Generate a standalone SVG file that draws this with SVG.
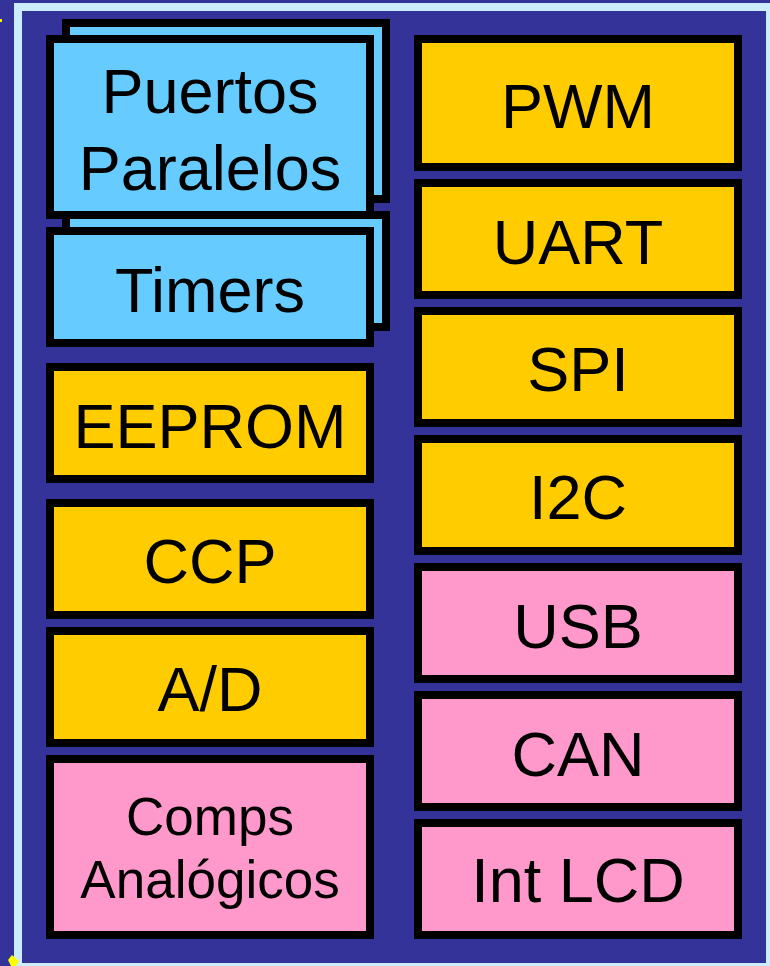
<svg xmlns="http://www.w3.org/2000/svg" width="770" height="966" viewBox="0 0 770 966">
  <style>
    .box { stroke: #000000; stroke-width: 8; }
    .cyan { fill: #66CCFF; }
    .yellow { fill: #FFCC00; }
    .pink { fill: #FF99CC; }
    .lbl { font-family: "Liberation Sans", Arial, sans-serif; font-size: 63px; fill: #000000; text-anchor: middle; }
    .sm { font-size: 53px; }
  </style>
  <rect x="0" y="0" width="770" height="966" fill="#333399"/>
  <rect x="18" y="7" width="752" height="960" fill="#333399" stroke="#CCECFF" stroke-width="8"/>
  <rect x="0" y="19" width="2" height="3" fill="#FFFF00"/>
  <polygon points="8,960 12,955 19,961 16,966 11,966" fill="#FFFF00"/>

  <g id="connectors"/>

  <g id="timers">
    <rect class="box cyan" x="66" y="215" width="320" height="112"/>
    <rect class="box cyan" x="50" y="231" width="320" height="112"/>
    <text class="lbl" x="210" y="312">Timers</text>
  </g>
  <g id="puertos">
    <rect class="box cyan" x="66" y="23" width="320" height="176"/>
    <rect class="box cyan" x="50" y="39" width="320" height="176"/>
    <text class="lbl" x="210" y="113">Puertos</text>
    <text class="lbl" x="210" y="190">Paralelos</text>
  </g>
  <g id="eeprom">
    <rect class="box yellow" x="50" y="367" width="320" height="112"/>
    <text class="lbl" x="210" y="448">EEPROM</text>
  </g>
  <g id="ccp">
    <rect class="box yellow" x="50" y="503" width="320" height="112"/>
    <text class="lbl" x="210" y="583">CCP</text>
  </g>
  <g id="ad">
    <rect class="box yellow" x="50" y="631" width="320" height="112"/>
    <text class="lbl" x="210" y="711">A/D</text>
  </g>
  <g id="comps">
    <rect class="box pink" x="50" y="759" width="320" height="176"/>
    <text class="lbl sm" x="210" y="835">Comps</text>
    <text class="lbl sm" x="210" y="898">Analógicos</text>
  </g>

  <g id="pwm">
    <rect class="box yellow" x="418" y="39" width="320" height="128"/>
    <text class="lbl" x="578" y="128">PWM</text>
  </g>
  <g id="uart">
    <rect class="box yellow" x="418" y="183" width="320" height="112"/>
    <text class="lbl" x="578" y="264">UART</text>
  </g>
  <g id="spi">
    <rect class="box yellow" x="418" y="311" width="320" height="112"/>
    <text class="lbl" x="578" y="391">SPI</text>
  </g>
  <g id="i2c">
    <rect class="box yellow" x="418" y="439" width="320" height="112"/>
    <text class="lbl" x="578" y="519">I2C</text>
  </g>
  <g id="usb">
    <rect class="box pink" x="418" y="567" width="320" height="112"/>
    <text class="lbl" x="578" y="648">USB</text>
  </g>
  <g id="can">
    <rect class="box pink" x="418" y="695" width="320" height="112"/>
    <text class="lbl" x="578" y="776">CAN</text>
  </g>
  <g id="intlcd">
    <rect class="box pink" x="418" y="823" width="320" height="112"/>
    <text class="lbl" x="578" y="902">Int LCD</text>
  </g>
</svg>
